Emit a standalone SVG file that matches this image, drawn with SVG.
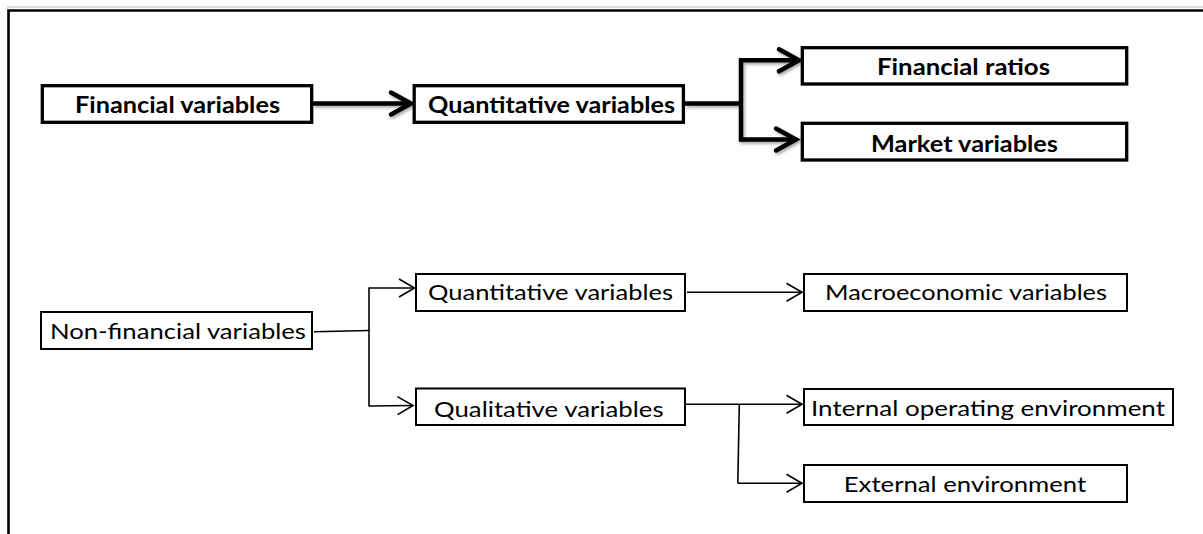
<svg xmlns="http://www.w3.org/2000/svg" width="1203" height="534" viewBox="0 0 1203 534">
  <style>
    .bg { fill: #ffffff; }
    .bold-box { fill: #ffffff; stroke: #000000; stroke-width: 3.3; }
    .thin-box { fill: #ffffff; stroke: #000000; stroke-width: 2; }
    .bold-label { font-family: Lato, "Open Sans", "Liberation Sans", sans-serif; font-weight: bold; font-size: 23px; fill: #000000; }
    .thin-label { font-family: Lato, "Open Sans", "Liberation Sans", sans-serif; font-weight: normal; font-size: 22px; fill: #000000; }
    .bold-line { fill: none; stroke: #000000; stroke-width: 4.5; stroke-linejoin: miter; }
    .thin-line { fill: none; stroke: #000000; stroke-width: 1.6; }
    .frame { fill: none; stroke: #000000; stroke-width: 2.6; }
  </style>
  <defs>
    <marker id="boldHead" markerUnits="userSpaceOnUse" markerWidth="30" markerHeight="30" viewBox="-24 -15 30 30" refX="0" refY="0" orient="auto" overflow="visible">
      <path d="M -20 -11 L 0 0 L -20 11" fill="none" stroke="#000000" stroke-width="4.5" stroke-linecap="round" stroke-linejoin="miter"/>
    </marker>
    <marker id="thinHead" markerUnits="userSpaceOnUse" markerWidth="24" markerHeight="24" viewBox="-20 -12 24 24" refX="0" refY="0" orient="auto" overflow="visible">
      <path d="M -15.5 -9 L 0 0 L -15.5 9" fill="none" stroke="#000000" stroke-width="1.6"/>
    </marker>
    <filter id="shadow" x="-10%" y="-30%" width="130%" height="160%">
      <feDropShadow dx="1.5" dy="2" stdDeviation="1.5" flood-color="#000000" flood-opacity="0.35"/>
    </filter>
  </defs>

  <rect class="bg" x="0" y="0" width="1203" height="534"/>

  <!-- frame -->
  <g id="frame">
    <line x1="7" y1="7" x2="1203" y2="7" stroke="#bdbdbd" stroke-width="1.2"/>
    <path class="frame" d="M 8.5 534 L 8.5 10.5 L 1203 10.5"/>
  </g>

  <!-- connectors -->
  <g id="connectors">
    <g filter="url(#shadow)">
      <line class="bold-line" x1="313" y1="103.5" x2="411" y2="103.5" marker-end="url(#boldHead)"/>
      <path class="bold-line" d="M 685 103.5 L 741 103.5"/>
      <path class="bold-line" d="M 741 58 L 741 141.5"/>
      <line class="bold-line" x1="739" y1="60.3" x2="799" y2="60.3" marker-end="url(#boldHead)"/>
      <line class="bold-line" x1="739" y1="139.5" x2="796" y2="139.5" marker-end="url(#boldHead)"/>
    </g>
    <path class="thin-line" d="M 314 331.7 L 369 330.5"/>
    <path class="thin-line" d="M 369 287.5 L 369 406.5"/>
    <line class="thin-line" x1="369" y1="288" x2="414.5" y2="288" marker-end="url(#thinHead)"/>
    <line class="thin-line" x1="369" y1="406" x2="413" y2="405.5" marker-end="url(#thinHead)"/>
    <line class="thin-line" x1="687" y1="292.3" x2="802" y2="292.3" marker-end="url(#thinHead)"/>
    <line class="thin-line" x1="686" y1="404.3" x2="802" y2="404.3" marker-end="url(#thinHead)"/>
    <path class="thin-line" d="M 739.3 404.3 L 737.8 483.3"/>
    <line class="thin-line" x1="737.8" y1="483.3" x2="802" y2="483.3" marker-end="url(#thinHead)"/>
  </g>

  <!-- bold nodes -->
  <g id="node-financial-variables">
    <rect class="bold-box" x="42.3" y="85.7" width="269.4" height="36.6"/>
    <text class="bold-label" x="177.5" y="112.5" text-anchor="middle" textLength="205" lengthAdjust="spacingAndGlyphs">Financial variables</text>
  </g>
  <g id="node-quantitative-variables-bold">
    <rect class="bold-box" x="414.2" y="85.7" width="269.2" height="36.6"/>
    <text class="bold-label" x="551.5" y="112.5" text-anchor="middle" textLength="247" lengthAdjust="spacingAndGlyphs">Quantitative variables</text>
  </g>
  <g id="node-financial-ratios">
    <rect class="bold-box" x="802.3" y="47.7" width="324.4" height="36.3"/>
    <text class="bold-label" x="963.5" y="75" text-anchor="middle" textLength="173" lengthAdjust="spacingAndGlyphs">Financial ratios</text>
  </g>
  <g id="node-market-variables">
    <rect class="bold-box" x="802.3" y="123.3" width="324.4" height="36.7"/>
    <text class="bold-label" x="964.5" y="152" text-anchor="middle" textLength="187" lengthAdjust="spacingAndGlyphs">Market variables</text>
  </g>

  <!-- thin nodes -->
  <g id="node-non-financial-variables">
    <rect class="thin-box" x="41" y="312" width="271" height="37"/>
    <text class="thin-label" x="178" y="339" text-anchor="middle" textLength="256" lengthAdjust="spacingAndGlyphs">Non-financial variables</text>
  </g>
  <g id="node-quantitative-variables">
    <rect class="thin-box" x="416" y="274" width="269" height="37"/>
    <text class="thin-label" x="550.5" y="300" text-anchor="middle" textLength="245" lengthAdjust="spacingAndGlyphs">Quantitative variables</text>
  </g>
  <g id="node-qualitative-variables">
    <rect class="thin-box" x="416" y="388.5" width="269" height="36.5"/>
    <text class="thin-label" x="548.8" y="416.5" text-anchor="middle" textLength="229.5" lengthAdjust="spacingAndGlyphs">Qualitative variables</text>
  </g>
  <g id="node-macroeconomic-variables">
    <rect class="thin-box" x="804" y="274" width="323" height="37"/>
    <text class="thin-label" x="966" y="300" text-anchor="middle" textLength="282" lengthAdjust="spacingAndGlyphs">Macroeconomic variables</text>
  </g>
  <g id="node-internal-operating-environment">
    <rect class="thin-box" x="804" y="389" width="369" height="36"/>
    <text class="thin-label" x="988" y="416" text-anchor="middle" textLength="354" lengthAdjust="spacingAndGlyphs">Internal operating environment</text>
  </g>
  <g id="node-external-environment">
    <rect class="thin-box" x="804" y="465" width="323" height="37"/>
    <text class="thin-label" x="965" y="492" text-anchor="middle" textLength="242.5" lengthAdjust="spacingAndGlyphs">External environment</text>
  </g>
</svg>
